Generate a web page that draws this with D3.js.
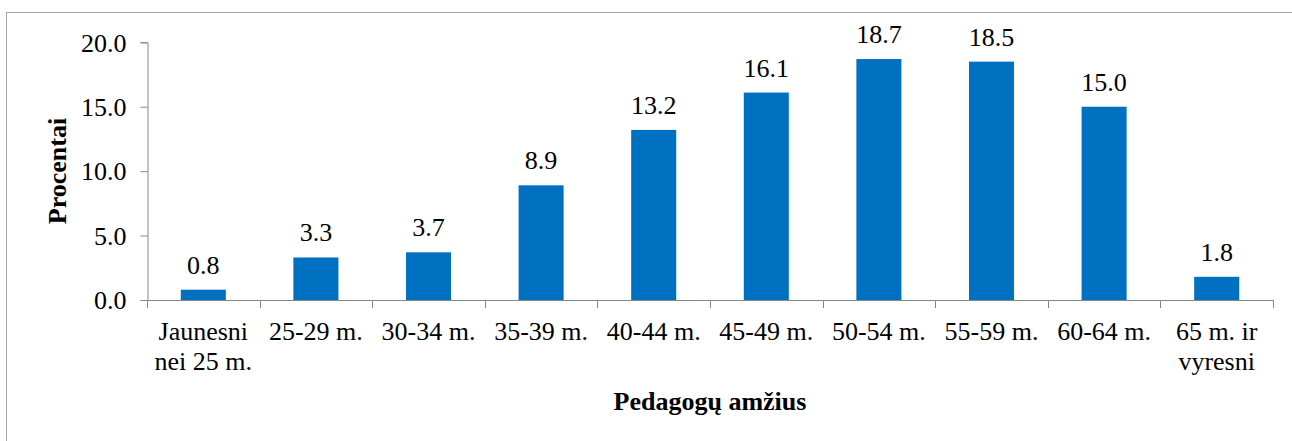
<!doctype html>
<html lang="lt">
    <head>
        <meta charset="utf-8">
        <title>Pedagogų amžius</title>
        <style>
            body { margin: 0; background: #fff; }
        </style>
    </head>
    <body>
        <svg id="chart"></svg>
        <script src="https://d3js.org/d3.v7.min.js"></script>
        <script>
            //Chart data
            var categories = ["Jaunesni|nei 25 m.", "25-29 m.", "30-34 m.", "35-39 m.", "40-44 m.",
                "45-49 m.", "50-54 m.", "55-59 m.", "60-64 m.", "65 m. ir|vyresni"];
            var values = [0.8, 3.3, 3.7, 8.9, 13.2, 16.1, 18.7, 18.5, 15.0, 1.8];
            var yTicks = [0, 5, 10, 15, 20];
            var yTitle = "Procentai";
            var xTitle = "Pedagogų amžius";

            var svgWidth = 1292;
            var svgHeight = 441;
            var fontSize = "26px";
            var fontFamily = "'Liberation Serif'";
            var axisColor = "#868686";

            var svg = d3.select("#chart")
            .attr("width", svgWidth)
            .attr("height", svgHeight);

            //Outer frame of the chart
            svg.append("rect")
            .attr("x", 6.5)
            .attr("y", 12.5)
            .attr("width", 1400)
            .attr("height", 600)
            .attr("fill", "none")
            .attr("stroke", "#a6a6a6");

            //Scales
            var x = d3.scaleBand()
            .domain(categories)
            .range([147, 1273])
            .paddingInner(0.6)
            .paddingOuter(0.3);

            var y = d3.scaleLinear()
            .domain([0, 20])
            .range([300, 42.3]);

            //Y axis
            var yAxis = svg.append("g")
            .attr("transform", "translate(147.5,0)")
            .call(d3.axisLeft(y).tickValues(yTicks).tickSize(7).tickPadding(14).tickFormat(d3.format(".1f")));
            yAxis.attr("font-family", null).attr("font-size", null);
            yAxis.select(".domain").attr("stroke", axisColor);
            yAxis.selectAll(".tick line").attr("stroke", axisColor);
            yAxis.selectAll(".tick text")
            .style("font-family", fontFamily)
            .style("font-size", fontSize)
            .attr("fill", "#000")
            .attr("dy", "0.34em");

            //Bars
            svg.selectAll("rect.bar")
            .data(values)
            .enter()
            .append("rect")
            .attr("class", "bar")
            .attr("x", function(d, i) { return x(categories[i]); })
            .attr("y", function(d) { return y(d); })
            .attr("width", x.bandwidth())
            .attr("height", function(d) { return y(0) - y(d); })
            .attr("fill", "#0070c0");

            //X axis line and category boundary ticks
            var step = x.step();
            var x0 = 147;
            svg.append("line")
            .attr("x1", x0).attr("x2", x0 + step * categories.length)
            .attr("y1", 300.5).attr("y2", 300.5)
            .attr("stroke", axisColor);
            svg.selectAll("line.xtick")
            .data(d3.range(categories.length + 1))
            .enter()
            .append("line")
            .attr("class", "xtick")
            .attr("x1", function(i) { return Math.round(x0 + step * i) + 0.5; })
            .attr("x2", function(i) { return Math.round(x0 + step * i) + 0.5; })
            .attr("y1", 300).attr("y2", 308)
            .attr("stroke", axisColor);

            //Category labels (may wrap on two lines)
            var catLabels = svg.selectAll("text.cat")
            .data(categories)
            .enter()
            .append("text")
            .attr("class", "cat")
            .attr("text-anchor", "middle")
            .style("font-family", fontFamily)
            .style("font-size", fontSize);
            catLabels.each(function(d) {
                var parts = d.split("|");
                var cx = x(d) + x.bandwidth() / 2;
                var t = d3.select(this);
                parts.forEach(function(p, k) {
                    t.append("tspan").attr("x", cx).attr("y", 340 + k * 30).text(p);
                });
            });

            //Value labels above bars
            svg.selectAll("text.val")
            .data(values)
            .enter()
            .append("text")
            .attr("class", "val")
            .attr("text-anchor", "middle")
            .style("font-family", fontFamily)
            .style("font-size", fontSize)
            .attr("x", function(d, i) { return x(categories[i]) + x.bandwidth() / 2; })
            .attr("y", function(d) { return y(d) - 16; })
            .text(function(d) { return d3.format(".1f")(d); });

            //Axis titles
            svg.append("text")
            .attr("transform", "translate(66,171) rotate(-90)")
            .attr("text-anchor", "middle")
            .style("font-family", fontFamily)
            .style("font-size", fontSize)
            .style("font-weight", "bold")
            .text(yTitle);

            svg.append("text")
            .attr("x", 710)
            .attr("y", 410)
            .attr("text-anchor", "middle")
            .style("font-family", fontFamily)
            .style("font-size", fontSize)
            .style("font-weight", "bold")
            .text(xTitle);
        </script>
    </body>
</html>
